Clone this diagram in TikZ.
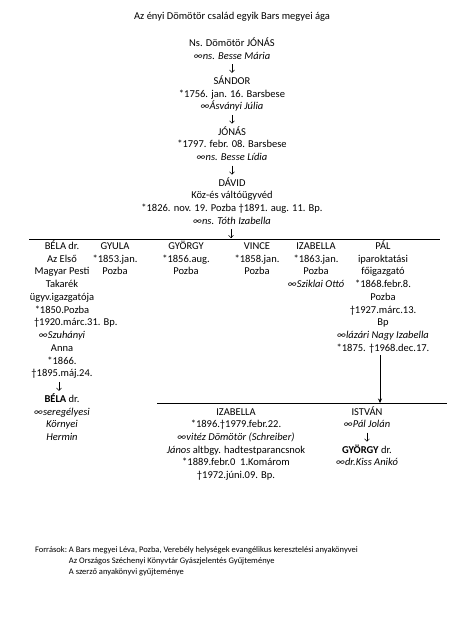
\documentclass[tikz,border=0pt]{standalone}
\usepackage{fontspec}
\setmainfont{Carlito}
\usetikzlibrary{arrows.meta}
\newcommand\tS{\rule{0pt}{9pt}}
\newcommand\bS{\rule[-2.5pt]{0pt}{2.5pt}}
\begin{document}
\begin{tikzpicture}[x=1pt,y=-1pt,
  every node/.style={inner sep=0pt,outer sep=0pt},
  blk/.style={align=center,anchor=north,font=\fontsize{10.5}{12.73}\selectfont},
  garr/.style={-{Straight Barb[length=2.5pt,width=5pt]},line width=0.5pt,shorten <=2.5pt,shorten >=2.5pt},
  parr/.style={-{Stealth[length=4.5pt,width=4pt]},line width=0.6pt,shorten <=1pt},
  hline/.style={line width=0.7pt}]
\fill[white] (0,0) rectangle (471,617);
\useasboundingbox (0,0) rectangle (471,617);

\node[font=\fontsize{10.5}{12.73}\selectfont] (title) at (232,17) {Az ényi Dömötör család egyik Bars megyei ága};

\node[blk] (jonas1) at (232,37.3) {\tS Ns. Dömötör JÓNÁS\\\textit{∞ns. Besse Mária}\bS};
\node[blk] (sandor) at (232,75.3) {\tS SÁNDOR\\{}*1756. jan. 16. Barsbese\\\textit{∞Ásványi Júlia}\bS};
\node[blk] (jonas2) at (232,126.2) {\tS JÓNÁS\\{}*1797. febr. 08. Barsbese\\\textit{∞ns. Besse Lídia}\bS};
\node[blk] (david) at (232,177.1) {\tS DÁVID\\Köz-és váltóügyvéd\\{}*1826. nov. 19. Pozba †1891. aug. 11. Bp.\\\textit{∞ns. Tóth Izabella}\bS};

\draw[garr] (jonas1.south) -- (sandor.north);
\draw[garr] (sandor.south) -- (jonas2.north);
\draw[garr] (jonas2.south) -- (david.north);

\coordinate (l1w) at (29,239);
\coordinate (l1e) at (440,239);
\draw[hline] (l1w) -- (l1e);
\draw[garr,shorten >=0.8pt] ([xshift=-1pt]david.south) -- ([xshift=-1pt]david.south |- l1w);

\node[blk] (bela) at (62,240.5) {\tS BÉLA dr.\\Az Első\\Magyar Pesti\\Takarék\\ügyv.igazgatója\\{}*1850.Pozba\\\makebox[56pt][l]{†1920.márc.31. Bp.}\\\textit{∞Szuhányi}\\Anna\\{}*1866.\\†1895.máj.24.\bS};
\node[blk] (gyula) at (115,240.5) {\tS GYULA\\{}*1853.jan.\\Pozba\bS};
\node[blk] (gyorgy) at (186,240.5) {\tS GYÖRGY\\{}*1856.aug.\\Pozba\bS};
\node[blk] (vince) at (257,240.5) {\tS VINCE\\{}*1858.jan.\\Pozba\bS};
\node[blk] (izab) at (316,240.5) {\tS IZABELLA\\{}*1863.jan.\\Pozba\\\textit{∞Sziklai Ottó}\bS};
\node[blk] (pal) at (383,240.5) {\tS PÁL\\iparoktatási\\főigazgató\\{}*1868.febr.8.\\Pozba\\†1927.márc.13.\\Bp\\\textit{∞lázári Nagy Izabella}\\{}*1875. †1968.dec.17.\bS};

\node[blk] (bela2) at (62,393.3) {\tS\textbf{BÉLA} dr.\\\textit{∞seregélyesi}\\\textit{Környei}\\\textit{Hermin}\bS};
\draw[garr] ([xshift=-3pt]bela.south) -- ([xshift=-3pt]bela2.north);

\coordinate (l2w) at (157,403);
\coordinate (l2e) at (447,403);
\draw[hline] (l2w) -- (l2e);
\draw[parr] ([xshift=-3pt]pal.south) -- ([xshift=-3pt]pal.south |- l2w);

\node[blk] (izab2) at (236,406) {\tS IZABELLA\\{}*1896.†1979.febr.22.\\\textit{∞vitéz Dömötör (Schreiber)}\\\textit{János} altbgy. hadtestparancsnok\\{}*1889.febr.0\ \ 1.Komárom\\†1972.júni.09. Bp.\bS};
\node[blk] (istvan) at (367,406) {\tS ISTVÁN\\\textit{∞Pál Jolán}\bS};
\node[blk] (gyorgy2) at (367,444.2) {\tS\textbf{GYÖRGY} dr.\\\textit{∞dr.Kiss Anikó}\bS};
\draw[garr] (istvan.south) -- (gyorgy2.north);

\node[anchor=north west,font=\fontsize{8.5}{11}\selectfont] (src) at (35,545) {\begin{tabular}{@{}l@{\ }l@{}}Források: & A Bars megyei Léva, Pozba, Verebély helységek evangélikus keresztelési anyakönyvei\\ & Az Országos Széchenyi Könyvtár Gyászjelentés Gyűjteménye\\ & A szerző anyakönyvi gyűjteménye\end{tabular}};
\end{tikzpicture}
\end{document}
